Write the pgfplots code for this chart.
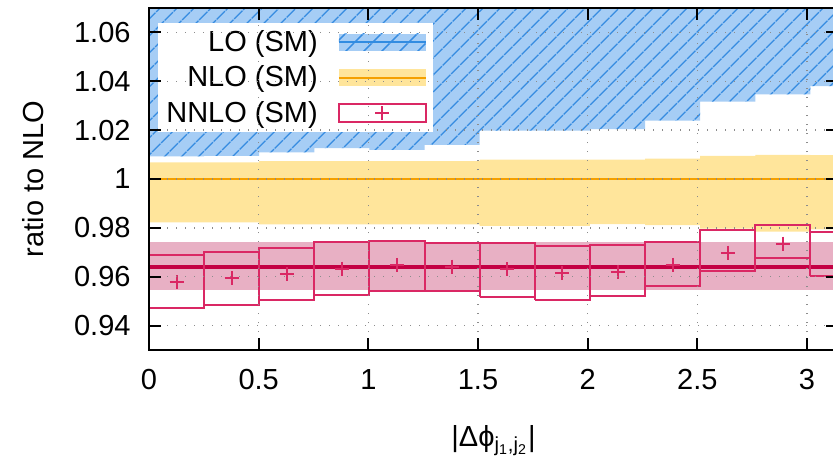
\documentclass[border=0pt]{standalone}
\usepackage{fontspec}
\setmainfont{Liberation Sans}
\usepackage{pgfplots}
\usepackage{pgfplotstable}
\pgfplotsset{compat=1.18}
\usepgfplotslibrary{fillbetween}
\usetikzlibrary{patterns.meta}

\definecolor{lofill}{RGB}{166,205,245}
\definecolor{lohatch}{RGB}{55,140,225}
\definecolor{loline}{RGB}{50,140,225}
\definecolor{nlofill}{RGB}{255,229,155}
\definecolor{nloline}{RGB}{245,160,0}
\definecolor{nnloband}{RGB}{232,176,196}
\definecolor{nnloline}{RGB}{196,0,68}
\definecolor{nnlobox}{RGB}{218,40,100}
\newcommand\lbl{\fontsize{14.5}{17}\selectfont}

% bin left edges (width pi/12.5), last row closes the last bin
\pgfplotstableread{
x       lohi  lolo   nlolo  nlohi
0.00000 1.090 1.0093 0.9822 1.0068
0.25133 1.090 1.0095 0.9822 1.0068
0.50265 1.090 1.0109 0.9814 1.0073
0.75398 1.090 1.0126 0.9814 1.0073
1.00531 1.090 1.0119 0.9814 1.0073
1.25664 1.090 1.0140 0.9814 1.0073
1.50796 1.095 1.0198 0.9808 1.0079
1.75929 1.095 1.0198 0.9808 1.0079
2.01062 1.095 1.0204 0.9815 1.0079
2.26195 1.095 1.0239 0.9811 1.0083
2.51327 1.100 1.0317 0.9797 1.0095
2.76460 1.100 1.0346 0.9785 1.0099
3.01593 1.100 1.0380 0.9794 1.0098
3.26726 1.100 1.0380 0.9794 1.0098
}\bands

% NNLO central values at bin centres
\pgfplotstableread{
x       y
0.12566 0.9578
0.37699 0.9594
0.62832 0.9612
0.87965 0.9633
1.13097 0.9648
1.38230 0.9641
1.63363 0.9630
1.88496 0.9616
2.13628 0.9621
2.38761 0.9649
2.63894 0.9699
2.89027 0.9735
}\nnlo

\begin{document}
\begin{tikzpicture}
\begin{axis}[
  scale only axis, width=344.5pt, height=171pt,
  xmin=0, xmax=3.14159, ymin=0.93, ymax=1.07,
  xtick={0,0.5,1,1.5,2,2.5,3},
  ytick={0.94,0.96,0.98,1,1.02,1.04,1.06},
  /pgf/number format/.cd, fixed, precision=2, assume math mode=true, /pgfplots/.cd,
  axis on top,
  axis line style={line width=1pt},
  major tick length=6pt,
  tick style={line width=1pt, black},
  grid=major,
  grid style={dash pattern=on 0.7pt off 3.8pt, line width=0.7pt, color=black!45},
  every tick label/.append style={font=\lbl},
  xticklabel style={yshift=-6pt},
  yticklabel style={xshift=-5.7pt},
  xlabel={|Δϕ\textsubscript{j\textsubscript{1},j\textsubscript{2}}|},
  ylabel={ratio to NLO},
  every axis x label/.style={at={(axis description cs:0.5,-0.265)}, anchor=center, font=\lbl},
  every axis y label/.style={at={(axis description cs:-0.168,0.5)}, rotate=90, anchor=center, font=\lbl},
  legend plot pos=right,
  legend cell align=right,
  legend style={at={(axis description cs:0.013,0.956)}, anchor=north west,
    draw=none, fill=white, font=\lbl, inner xsep=3pt, inner ysep=2.5pt,
    column sep=9pt, row sep=3.75pt, nodes={inner sep=1pt}},
]
\addlegendimage{legend image code/.code={
  \path[draw=none, fill=lofill] (0pt,-4.25pt) rectangle (43.5pt,4.25pt);
  \path[draw=none, pattern={Lines[angle=45,distance=6.5pt,line width=0.8pt]}, pattern color=lohatch] (0pt,-4.25pt) rectangle (43.5pt,4.25pt);
  \draw[loline, line width=1pt] (0pt,0pt) -- (43.5pt,0pt);}}
\addlegendentry{LO (SM)}
\addlegendimage{legend image code/.code={
  \path[draw=none, fill=nlofill] (0pt,-4.25pt) rectangle (43.5pt,4.25pt);
  \draw[nloline, line width=1pt] (0pt,0pt) -- (43.5pt,0pt);}}
\addlegendentry{NLO (SM)}
\addlegendimage{legend image code/.code={
  \draw[nnlobox, line width=1pt, fill=white] (0pt,-4.5pt) rectangle (43.5pt,4.5pt);
  \draw[nnlobox, line width=1pt, mark=+, mark size=3.5pt] plot coordinates {(21.75pt,0pt)};}}
\addlegendentry{NNLO (SM)}

% LO band (upper edge lies above the frame)
\addplot[name path=lotop, const plot, draw=none, forget plot] table[x=x, y=lohi] {\bands};
\addplot[name path=lobot, const plot, draw=none, forget plot] table[x=x, y=lolo] {\bands};
\addplot[lofill, draw=none, forget plot] fill between[of=lotop and lobot];
\addplot[draw=none, pattern={Lines[angle=45,distance=6.5pt,line width=0.8pt]}, pattern color=lohatch, forget plot] fill between[of=lotop and lobot];

% NLO band and central line
\addplot[name path=nlotop, const plot, draw=none, forget plot] table[x=x, y=nlohi] {\bands};
\addplot[name path=nlobot, const plot, draw=none, forget plot] table[x=x, y=nlolo] {\bands};
\addplot[nlofill, draw=none, forget plot] fill between[of=nlotop and nlobot];
\addplot[nloline, line width=1pt, forget plot] coordinates {(0,1) (3.3,1)};

% NNLO scale band and central line
\addplot[fill=nnloband, draw=none, forget plot] coordinates {(0,0.9547) (3.3,0.9547) (3.3,0.9744) (0,0.9744)} -- cycle;
\addplot[nnloline, line width=2pt, forget plot] coordinates {(0,0.9641) (3.3,0.9641)};

% NNLO per-bin boxes
\addplot[nnlobox, line width=1pt, unbounded coords=jump, forget plot] coordinates {
(0.00000,0.9470) (0.25133,0.9470) (0.25133,0.9687) (0.00000,0.9687) (0.00000,0.9470) (0,nan)
(0.25133,0.9483) (0.50265,0.9483) (0.50265,0.9703) (0.25133,0.9703) (0.25133,0.9483) (0,nan)
(0.50265,0.9504) (0.75398,0.9504) (0.75398,0.9719) (0.50265,0.9719) (0.50265,0.9504) (0,nan)
(0.75398,0.9526) (1.00531,0.9526) (1.00531,0.9744) (0.75398,0.9744) (0.75398,0.9526) (0,nan)
(1.00531,0.9543) (1.25664,0.9543) (1.25664,0.9748) (1.00531,0.9748) (1.00531,0.9543) (0,nan)
(1.25664,0.9540) (1.50796,0.9540) (1.50796,0.9740) (1.25664,0.9740) (1.25664,0.9540) (0,nan)
(1.50796,0.9515) (1.75929,0.9515) (1.75929,0.9737) (1.50796,0.9737) (1.50796,0.9515) (0,nan)
(1.75929,0.9505) (2.01062,0.9505) (2.01062,0.9726) (1.75929,0.9726) (1.75929,0.9505) (0,nan)
(2.01062,0.9520) (2.26195,0.9520) (2.26195,0.9729) (2.01062,0.9729) (2.01062,0.9520) (0,nan)
(2.26195,0.9561) (2.51327,0.9561) (2.51327,0.9744) (2.26195,0.9744) (2.26195,0.9561) (0,nan)
(2.51327,0.9623) (2.76460,0.9623) (2.76460,0.9793) (2.51327,0.9793) (2.51327,0.9623) (0,nan)
(2.76460,0.9675) (3.01593,0.9675) (3.01593,0.9812) (2.76460,0.9812) (2.76460,0.9675) (0,nan)
(3.01593,0.9602) (3.26726,0.9602) (3.26726,0.9785) (3.01593,0.9785) (3.01593,0.9602)
};
\addplot[only marks, mark=+, mark size=3.5pt, nnlobox, mark options={line width=1pt}, forget plot] table[x=x, y=y] {\nnlo};
\end{axis}
\pgfresetboundingbox
\path[use as bounding box] ([shift={(-74.5pt,-59pt)}]current axis.south west) rectangle ([shift={(342pt,175pt)}]current axis.south west);
\end{tikzpicture}
\end{document}
